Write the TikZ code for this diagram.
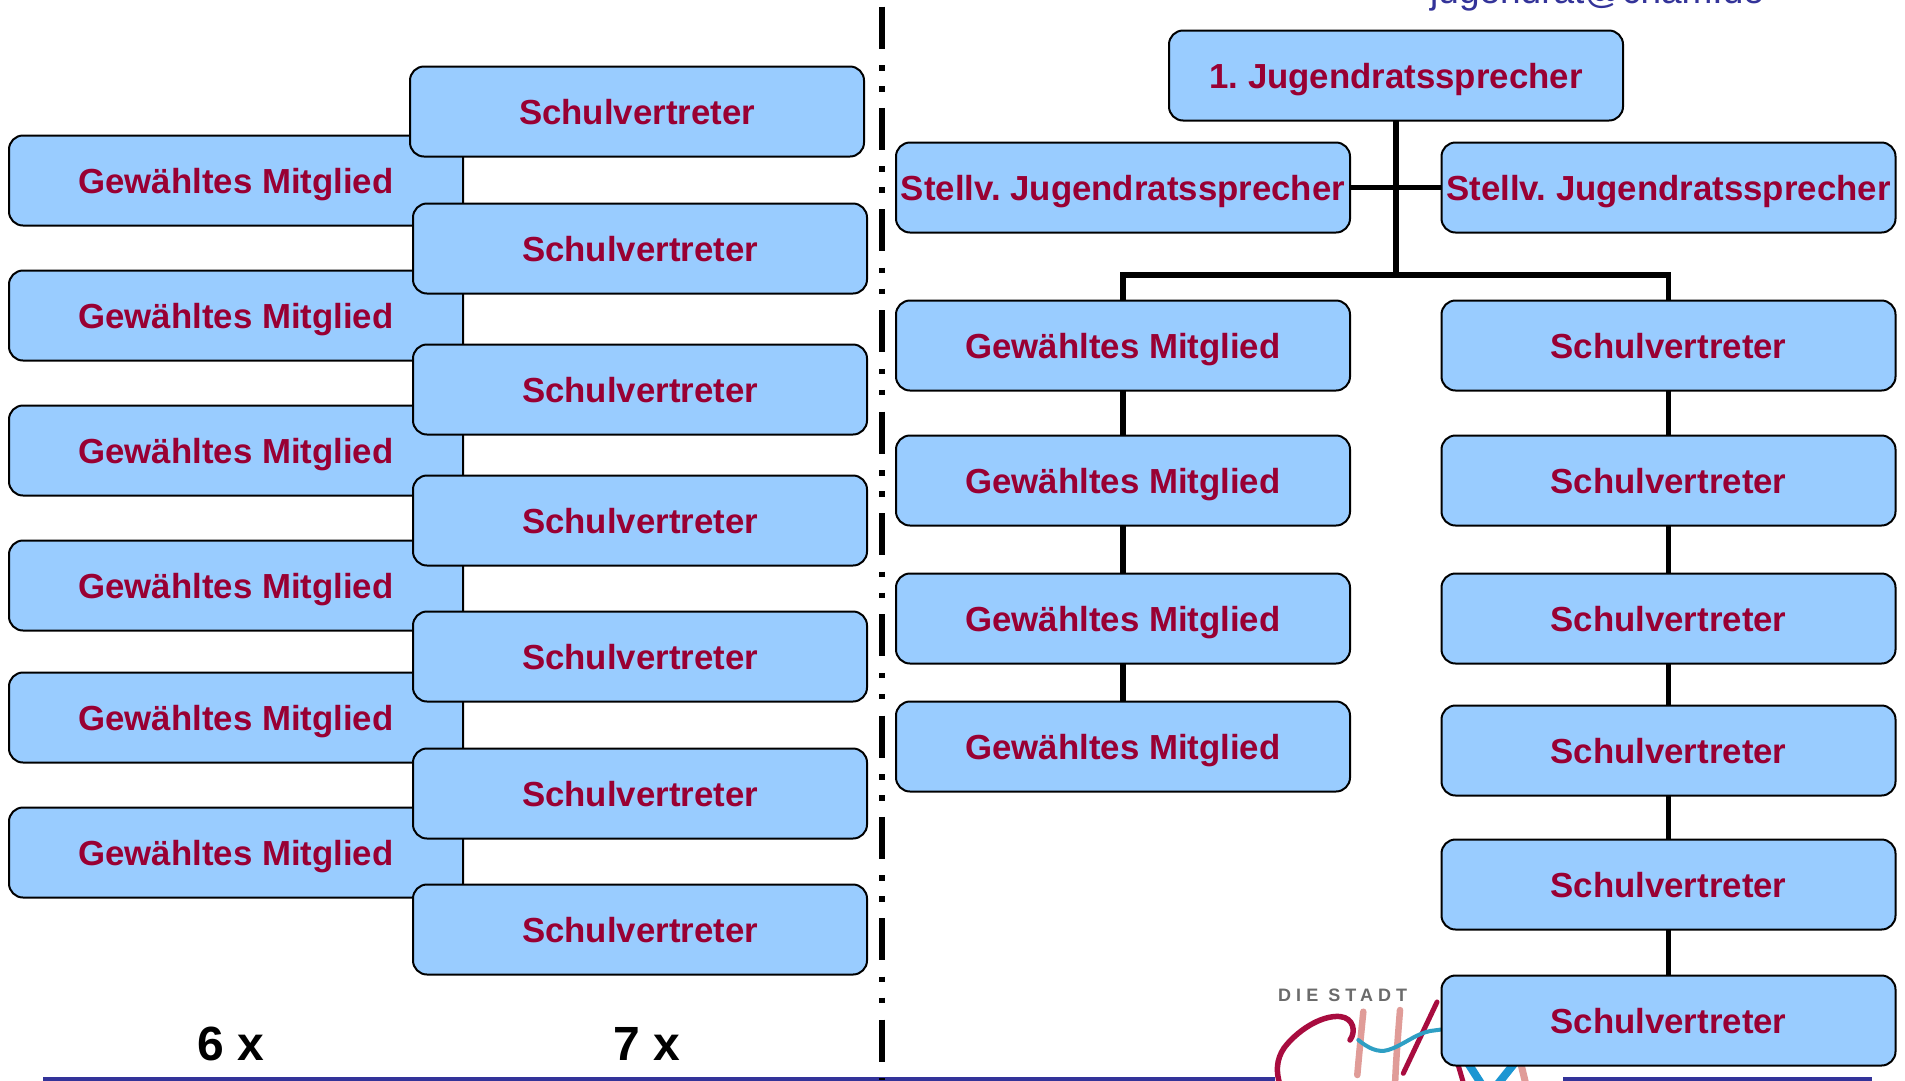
\documentclass[tikz,border=0pt]{standalone}
\usepackage{fontspec}
\setmainfont{Liberation Sans}
\newfontfamily\logofont[LetterSpace=28]{Liberation Sans}
\definecolor{boxfill}{HTML}{99CCFF}
\definecolor{boxtext}{HTML}{990033}
\definecolor{rulecol}{HTML}{333399}
\definecolor{logored}{HTML}{A80C3F}
\definecolor{logopink}{HTML}{E09C98}
\definecolor{logoteal}{HTML}{2E9FC4}
\definecolor{logoblue}{HTML}{1C96D2}
\tikzset{
  orgbox/.style={draw=black,line width=2pt,fill=boxfill,rounded corners=14pt,
    minimum width=454pt,minimum height=90pt,inner sep=0pt,outer sep=0pt,yshift=-0.5pt,
    anchor=north west,text=boxtext,text height=26pt,text depth=0pt,
    font=\bfseries\fontsize{34.8}{40}\selectfont},
  link/.style={draw=black,line width=5.5pt},
  countlabel/.style={anchor=base,inner sep=0pt,font=\bfseries\fontsize{48}{56}\selectfont},
  logostroke/.style={line cap=round,line join=round}
}
\begin{document}
\frenchspacing
\begin{tikzpicture}[x=1pt,y=-1pt]
\useasboundingbox (0,0) rectangle (1905,1080);
\fill[white] (0,0) rectangle (1905,1080);
% footer rule
\fill[rulecol] (43,1077) rectangle (1275,1081);
\fill[rulecol] (1563,1077) rectangle (1872,1081);
% logo
\begin{scope}
\clip (1270,975) rectangle (1563,1080);
\draw[logostroke,logopink,line width=6.5pt] (1363.3,1011.7) .. controls (1361,1035) and (1359,1055) .. (1357.3,1075);
\draw[logostroke,logopink,line width=6.5pt] (1400,1010) .. controls (1398,1035) and (1396,1060) .. (1395,1085);
\draw[logostroke,logopink,line width=7pt] (1520,1060) -- (1526,1085);
\draw[logostroke,logored,line width=5.5pt] (1350,1040) .. controls (1356,1032) and (1354,1018) .. (1340,1016.5)
  .. controls (1320,1015) and (1296,1032) .. (1284,1048) .. controls (1276,1060) and (1276,1072) .. (1280,1085);
\draw[logostroke,logored,line width=5pt] (1403.3,1073.3) -- (1437,1002);
\draw[logostroke,logored,line width=5pt] (1456.7,1060) -- (1464,1085);
\draw[logostroke,logoteal,line width=4pt] (1358.3,1040) .. controls (1368,1048) and (1378,1053) .. (1388,1050)
  .. controls (1402,1046) and (1415,1034) .. (1430,1031) -- (1445,1029);
\draw[logostroke,logoblue,line width=8pt] (1466,1060) -- (1482,1085);
\draw[logostroke,logoblue,line width=8pt] (1517,1060) -- (1497,1085);
\end{scope}
\node[anchor=base west,inner sep=0pt,text=black!58,font=\logofont\bfseries\fontsize{18}{20}\selectfont] (logotext) at (1278,1001) {DIE STADT};
% e-mail
\node[anchor=base west,inner sep=0pt,text=rulecol,font=\fontsize{37}{42}\selectfont] (mail) at (1430,3.5) {jugendrat@cham.de};
% separator
\coordinate (sepA) at (882,6.5);
\coordinate (sepB) at (882,1080);
\draw[line width=5.5pt,dash pattern=on 42pt off 16.5pt on 5.5pt off 15.5pt on 5.5pt off 16.3pt] (sepA) -- (sepB);
% left block
\foreach \n/\y in {1/135,2/270,3/405,4/540,5/672,6/807}
  \node[orgbox] (lg\n) at (9,\y) {Gewähltes Mitglied};
\node[orgbox] (ls1) at (410,66) {Schulvertreter};
\foreach \n/\y in {2/203,3/344,4/475,5/611,6/748,7/884}
  \node[orgbox] (ls\n) at (413,\y) {Schulvertreter};
\node[countlabel] (six) at (231,1060) {6 x};
\node[countlabel] (seven) at (647,1060) {7 x};
% right block
\node[orgbox] (top) at (1169,30) {1. Jugendratssprecher};
\node[orgbox] (stl) at (896,142) {Stellv. Jugendratssprecher};
\node[orgbox] (str) at (1441.5,142) {Stellv. Jugendratssprecher};
\foreach \n/\y in {1/300,2/435,3/573,4/701}
  \node[orgbox] (rg\n) at (896,\y) {Gewähltes Mitglied};
\foreach \n/\y in {1/300,2/435,3/573,4/705,5/839,6/975}
  \node[orgbox] (rs\n) at (1441.5,\y) {Schulvertreter};
% connectors
\coordinate (bus) at (top.south |- 0,275);
\draw[link] (top.south) -- (bus);
\draw[link] (stl.east) -- (str.west);
\draw[link] (rg1.north) |- (bus) -| (rs1.north);
\foreach \a/\b in {rg1/rg2,rg2/rg3,rg3/rg4,rs1/rs2,rs2/rs3,rs3/rs4,rs4/rs5,rs5/rs6}
  \draw[link] (\a.south) -- (\b.north);
\end{tikzpicture}
\end{document}
